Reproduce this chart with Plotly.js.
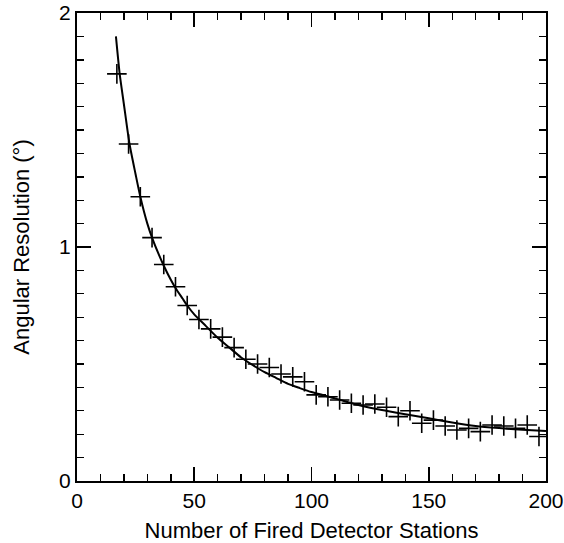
<!DOCTYPE html>
<html><head><meta charset="utf-8">
<script src="https://cdn.plot.ly/plotly-3.0.1.min.js"></script>
<style>html,body{margin:0;padding:0;background:#fff}#c{width:564px;height:543px}</style>
</head><body><div id="c"></div>
<script>
const stations = [17,22,27,32,37,42,47,52,57,62,67,72,77,82,87,92,97,102,107,112,117,122,127,132,137,142,147,152,157,162,167,172,177,182,187,192,197];
const resolution = [1.74,1.44,1.215,1.04,0.925,0.83,0.75,0.69,0.65,0.615,0.57,0.52,0.50,0.485,0.457,0.445,0.424,0.368,0.36,0.346,0.332,0.325,0.329,0.315,0.275,0.30,0.247,0.26,0.235,0.218,0.225,0.211,0.239,0.235,0.225,0.239,0.19];
const fitX = [16.6,18.2,20,22.4,25,27,30,32,35,37,40,42,45,47,50,55,60,65,70,75,80,85,90,95,100,110,120,130,140,150,160,170,180,190,200];
const fitY = [1.90,1.74,1.61,1.44,1.31,1.215,1.10,1.04,0.965,0.92,0.86,0.825,0.78,0.75,0.712,0.662,0.612,0.57,0.528,0.495,0.465,0.44,0.415,0.397,0.38,0.353,0.325,0.303,0.285,0.268,0.25,0.235,0.226,0.219,0.214];

const traces = [
  {x: fitX, y: fitY, mode: 'lines', line: {color: '#000', width: 2, shape: 'spline', smoothing: 0.6}, hoverinfo: 'skip'},
  {x: stations, y: resolution, mode: 'markers', marker: {symbol: 'cross-thin-open', size: 14, color: '#000', line: {color: '#000', width: 1.6}}}
];
const fam = 'Liberation Sans, Arial, sans-serif';
const layout = {
  width: 564, height: 543,
  margin: {l: 77, r: 18, t: 13, b: 62},
  paper_bgcolor: '#fff', plot_bgcolor: '#fff',
  showlegend: false,
  font: {family: fam, color: '#000'},
  xaxis: {
    range: [0, 200], tickvals: [0, 50, 100, 150, 200], ticktext: ['0','50','100','150','200'],
    ticks: 'inside', ticklen: 14, tickwidth: 1.6, tickcolor: '#000',
    minor: {dtick: 10, ticks: 'inside', ticklen: 7, tickwidth: 1.4, tickcolor: '#000', showgrid: false},
    showline: true, linecolor: '#000', linewidth: 2, mirror: 'ticks', showgrid: false, zeroline: false,
    tickfont: {size: 21, family: fam, color: '#000'},
    title: {text: 'Number of Fired Detector Stations', font: {size: 22, family: fam, color: '#000'}, standoff: 12}
  },
  yaxis: {
    range: [0, 2], tickvals: [0, 1, 2], ticktext: ['0','1','2'],
    ticks: 'inside', ticklen: 14, tickwidth: 1.6, tickcolor: '#000',
    minor: {dtick: 0.1, ticks: 'inside', ticklen: 7, tickwidth: 1.4, tickcolor: '#000', showgrid: false},
    showline: true, linecolor: '#000', linewidth: 2, mirror: 'ticks', showgrid: false, zeroline: false,
    tickfont: {size: 21, family: fam, color: '#000'},
    title: {text: 'Angular Resolution (°)', font: {size: 22, family: fam, color: '#000'}, standoff: 23}
  }
};
Plotly.newPlot('c', traces, layout, {staticPlot: true, displayModeBar: false});
</script></body></html>
